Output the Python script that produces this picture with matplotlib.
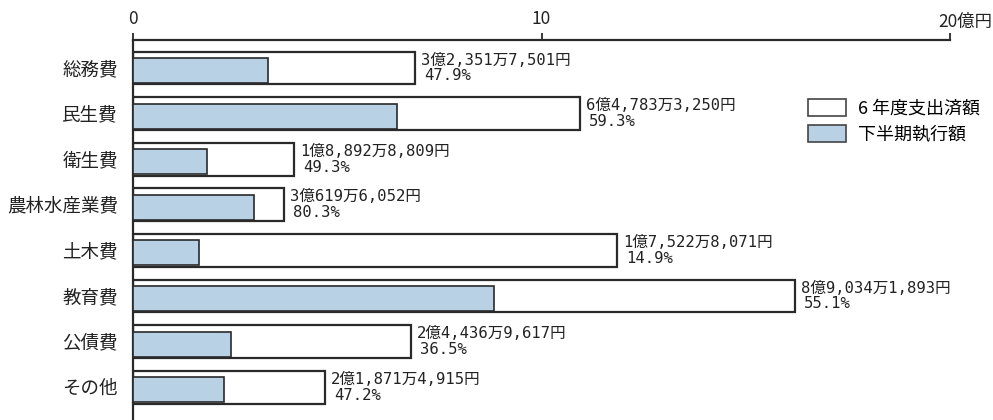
import matplotlib
matplotlib.use("Agg")
import matplotlib.pyplot as plt
import matplotlib.patches as mpatches
from matplotlib.transforms import offset_copy

plt.rcParams['font.family'] = ['Noto Sans CJK JP', 'DejaVu Sans']

categories = ['総務費', '民生費', '衛生費', '農林水産業費', '土木費', '教育費', '公債費', 'その他']
# 億円
total_spent = [6.9, 10.94, 3.95, 3.7, 11.85, 16.2, 6.8, 4.7]        # 6年度支出済額
second_half = [3.30, 6.46, 1.81, 2.96, 1.62, 8.84, 2.40, 2.23]      # 下半期執行額
amount_labels = ['3億2,351万7,501円', '6億4,783万3,250円', '1億8,892万8,809円',
                 '3億619万6,052円', '1億7,522万8,071円', '8億9,034万1,893円',
                 '2億4,436万9,617円', '2億1,871万4,915円']
pct_labels = ['47.9%', '59.3%', '49.3%', '80.3%', '14.9%', '55.1%', '36.5%', '47.2%']
xticks = [0, 10, 20]
xtick_labels = ['0', '10', '']
axis_end_label = '20億円'
legend_labels = ['6 年度支出済額', '下半期執行額']

W, H = 993, 420
fig = plt.figure(figsize=(W / 100, H / 100), dpi=100)
ax = fig.add_axes([133 / W, 0, 817 / W, 380 / H])

blue = '#b9d1e4'
edge = '#2a2a2a'
y = list(range(len(categories)))

outer_h = 0.72
inner_top = -0.22
inner_bot = 0.33

ax.barh(y, total_spent, height=outer_h, color='white', edgecolor=edge,
        linewidth=1.6, zorder=2)
ax.barh([v + (inner_top + inner_bot) / 2 for v in y], second_half,
        height=inner_bot - inner_top, color=blue, edgecolor=edge,
        linewidth=1.2, zorder=3)

mono = ['DejaVu Sans Mono', 'Noto Sans CJK JP']
for i in y:
    t1 = offset_copy(ax.transData, fig=fig, x=6, y=-1, units='dots')
    ax.text(total_spent[i], i - outer_h / 2, amount_labels[i], transform=t1,
            ha='left', va='top', fontsize=11.2, family=mono, color='#222')
    t2 = offset_copy(ax.transData, fig=fig, x=9, y=1, units='dots')
    ax.text(total_spent[i], i + outer_h / 2, pct_labels[i], transform=t2,
            ha='left', va='bottom', fontsize=11.2, family=mono, color='#222')

ax.set_xlim(0, 20)
ax.set_ylim(7.72, -0.614)
ax.set_yticks(y)
ax.set_yticklabels(categories, fontsize=13.3, color='#222')
ax.tick_params(axis='y', length=0, pad=11)

ax.xaxis.tick_top()
ax.set_xticks(xticks)
ax.set_xticklabels(xtick_labels, fontsize=12.5, color='#222')
ax.tick_params(axis='x', length=5, width=1.3, color=edge, pad=4)
ax.annotate(axis_end_label, xy=(20, 1), xycoords=('data', 'axes fraction'),
            xytext=(-12, 9), textcoords='offset pixels', ha='left', va='bottom',
            fontsize=12.5, color='#222', annotation_clip=False)

for s in ['right', 'bottom']:
    ax.spines[s].set_visible(False)
ax.spines['top'].set_linewidth(1.6)
ax.spines['left'].set_linewidth(1.6)
ax.spines['top'].set_color(edge)
ax.spines['left'].set_color(edge)

handles = [mpatches.Patch(facecolor='white', edgecolor='#444', linewidth=1.2),
           mpatches.Patch(facecolor=blue, edgecolor='#444', linewidth=1.2)]
fig.legend(handles, legend_labels, loc='upper left',
           bbox_to_anchor=(808 / W, 1 - 99 / H), frameon=False, fontsize=13,
           handlelength=2.1, handleheight=1.1, handletextpad=0.65,
           labelspacing=0.4, borderpad=0, borderaxespad=0)

fig.savefig('out.png', dpi=100)
